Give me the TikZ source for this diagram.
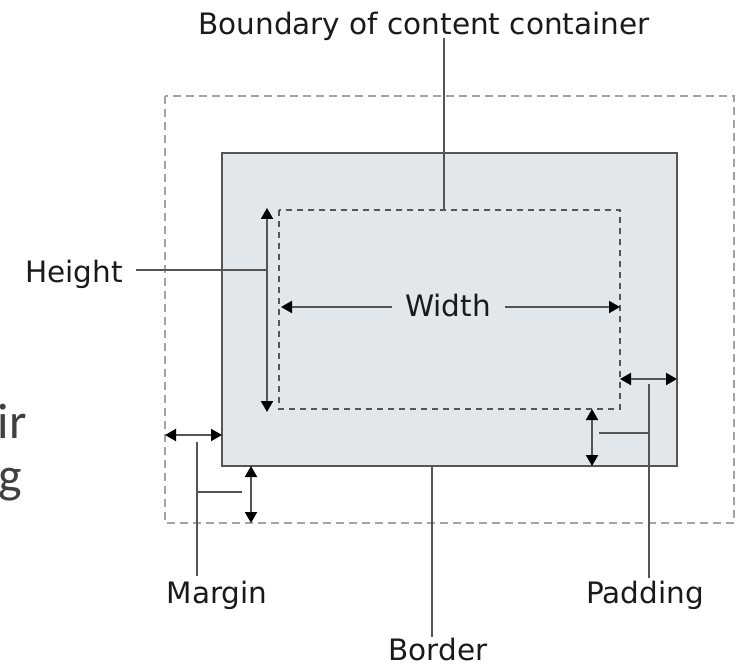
\documentclass[tikz,border=0pt]{standalone}
\usepackage{fontspec}
\setmainfont{DejaVu Sans}
\newfontfamily\fragfont{Carlito}
\usetikzlibrary{arrows.meta}
\definecolor{boxfill}{HTML}{E1E7EA}
\definecolor{linegray}{HTML}{555555}
\definecolor{outergray}{HTML}{A3A3A3}
\definecolor{txt}{HTML}{1A1A1A}
\definecolor{fragcol}{HTML}{404040}
\tikzset{
  lbl/.style={font=\fontsize{29.5}{35}\selectfont, text=txt, inner sep=0pt, anchor=base},
  leader/.style={draw=linegray, line width=2pt},
  dimarrow/.style={draw=linegray, line width=2pt, {Triangle[length=11pt,width=12pt,black]}-{Triangle[length=11pt,width=12pt,black]}},
  onearrow/.style={draw=linegray, line width=2pt, -{Triangle[length=11pt,width=12pt,black]}},
  outerbox/.style={draw=outergray, line width=2pt, dash pattern=on 8pt off 5pt},
  borderbox/.style={draw=linegray, fill=boxfill, line width=2.5pt},
  contentbox/.style={draw=linegray, line width=2pt, dash pattern=on 6pt off 5pt},
  frag/.style={font=\fragfont\fontsize{50}{60}\selectfont, text=fragcol, inner sep=0pt, anchor=base east}
}
\begin{document}
\begin{tikzpicture}[x=1pt, y=-1pt]
\useasboundingbox (0,0) rectangle (737,666);
% fragments of cut-off text
\node[frag] (fragA) at (27,438) {ir};
\node[frag] (fragB) at (22,492) {g};
% boxes
\draw[outerbox] (165,96) rectangle (734,523);
\draw[borderbox] (222,153) rectangle (677,466);
\draw[contentbox] (279,210) rectangle (620,409);
% coordinates
\coordinate (bTop) at (444,38);
\coordinate (bBot) at (444,210);
\coordinate (hL) at (136,270);
\coordinate (hR) at (267,270);
\coordinate (hT) at (267,208);
\coordinate (hB) at (267,412);
\coordinate (wL1) at (392,307);
\coordinate (wL2) at (281,307);
\coordinate (wR1) at (505,307);
\coordinate (wR2) at (620,307);
\coordinate (mhL) at (165,435);
\coordinate (mhR) at (222,435);
\coordinate (mvT) at (251,466);
\coordinate (mvB) at (251,523);
\coordinate (mlT) at (197,442);
\coordinate (mlB) at (197,576);
\coordinate (mbL) at (197,492);
\coordinate (mbR) at (242,492);
\coordinate (brT) at (432,466);
\coordinate (brB) at (432,637);
\coordinate (phL) at (620,379);
\coordinate (phR) at (677,379);
\coordinate (pvT) at (592,409);
\coordinate (pvB) at (592,466);
\coordinate (plT) at (649,384);
\coordinate (plB) at (649,578);
\coordinate (pbL) at (599,433);
\coordinate (pbR) at (649,433);
% labels
\node[lbl] (boundary) at (424,35) {Boundary of content container};
\node[lbl, anchor=base east] (height) at (123,283) {Height};
\node[lbl] (width) at (448,316) {Width};
\node[lbl] (margin) at (217,603) {Margin};
\node[lbl] (border) at (438,660) {Border};
\node[lbl] (padding) at (645,603) {Padding};
% leaders and dimension arrows
\draw[leader] (bTop) -- (bBot);
\draw[leader] (hL) -- (hR);
\draw[dimarrow] (hT) -- (hB);
\draw[onearrow] (wL1) -- (wL2);
\draw[onearrow] (wR1) -- (wR2);
\draw[dimarrow] (mhL) -- (mhR);
\draw[dimarrow] (mvT) -- (mvB);
\draw[leader] (mlT) -- (mlB);
\draw[leader] (mbL) -- (mbR);
\draw[leader] (brT) -- (brB);
\draw[dimarrow] (phL) -- (phR);
\draw[dimarrow] (pvT) -- (pvB);
\draw[leader] (plT) -- (plB);
\draw[leader] (pbL) -- (pbR);
\end{tikzpicture}
\end{document}
